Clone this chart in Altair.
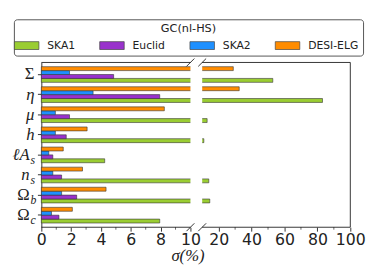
import altair as alt
import pandas as pd

# ---- data ----
params = ["Σ", "η", "μ", "h", "ℓA_s", "n_s", "Ω_b", "Ω_c"]
surveys = ["SKA1", "Euclid", "SKA2", "DESI-ELG"]
colors = ["#9ACD32", "#9932CC", "#1E90FF", "#FF8C00"]
ska1 = [52.9, 83.1, 13.0, 11.0, 4.25, 14.0, 14.6, 7.94]
euclid = [4.85, 7.94, 1.89, 1.67, 0.77, 1.36, 2.37, 1.18]
ska2 = [1.89, 3.47, 0.94, 0.94, 0.50, 0.77, 1.36, 0.68]
desi = [28.9, 32.5, 8.25, 3.07, 1.47, 2.76, 4.34, 2.08]

label_main = ["Σ", "η", "μ", "h", "ℓA", "n", "Ω", "Ω"]
label_sub = ["", "", "", "", "s", "s", "b", "c"]
label_italic = [False, True, True, True, True, True, False, False]

major_ticks = [0, 2, 4, 6, 8, 10, 20, 40, 60, 80, 100]
minor_ticks = [1, 3, 5, 7, 9, 30, 50, 70, 90]
break_lo, break_hi = 10, 10.0001

W, H = 315, 168
W_LEFT, GAP = 152, 12

rows = []
for name, vals in zip(surveys, [ska1, euclid, ska2, desi]):
    for p, v in zip(params, vals):
        rows.append({"param": p, "survey": name, "value": v})
df = pd.DataFrame(rows)

lab = pd.DataFrame({"param": params, "main": label_main, "sub": label_sub,
                    "italic": label_italic,
                    "hassub": [s != "" for s in label_sub]})

xscale = alt.Scale(domain=[0, break_lo, break_hi, 100],
                   range=[0, W_LEFT, W_LEFT + GAP, W], zero=False, nice=False)
xaxis = alt.Axis(values=major_ticks, format="d", labelFont="DejaVu Sans",
                 labelFontSize=16, labelColor="#222", tickSize=4,
                 tickColor="#000", tickWidth=0.8, domain=False, grid=False,
                 title="σ(%)", titleFont="Liberation Serif", titleFontSize=17,
                 titleFontStyle="italic", titleFontWeight="normal",
                 titleColor="#222", titleX=149, labelFlush=False,
                 labelOverlap=False, labelPadding=1, titlePadding=0)
yscale = alt.Scale(domain=params, paddingInner=0.22, paddingOuter=0.21)
yaxis = alt.Axis(labels=False, ticks=True, tickSize=4, tickColor="#000",
                 tickWidth=0.8, domain=True, domainColor="#000",
                 domainWidth=0.8, title=None, grid=False)

legend = alt.Legend(title="GC(nl-HS)", orient="none", legendX=-28, legendY=-44,
                    direction="horizontal", columns=4, columnPadding=23,
                    symbolType="M-1.47,-0.47H1.47V0.47H-1.47Z", symbolSize=289,
                    symbolStrokeColor="#444", symbolStrokeWidth=0.7,
                    labelFont="DejaVu Sans", labelFontSize=11, labelColor="#222",
                    labelOffset=12, titleFont="DejaVu Sans", titleFontSize=11.5,
                    titleFontWeight="normal", titleAnchor="middle",
                    titleColor="#222", titlePadding=2, strokeColor="#555",
                    cornerRadius=3, padding=4, fillColor="white")

bars = alt.Chart(df).mark_bar(stroke="#333", strokeWidth=0.6).encode(
    x=alt.X("value:Q", scale=xscale, axis=xaxis),
    y=alt.Y("param:N", scale=yscale, axis=yaxis),
    yOffset=alt.YOffset("survey:N", sort=["DESI-ELG", "SKA2", "Euclid", "SKA1"],
                        scale=alt.Scale(paddingInner=0, paddingOuter=0)),
    fill=alt.Fill("survey:N", scale=alt.Scale(domain=surveys, range=colors),
                  legend=legend),
)

gap_df = pd.DataFrame({"g0": [break_lo], "g1": [break_hi]})
gap = alt.Chart(gap_df).mark_rect(fill="white").encode(
    x=alt.X("g0:Q", scale=xscale, axis=xaxis), x2="g1:Q",
    y=alt.value(0), y2=alt.value(H))

spine_df = pd.DataFrame({"x0": [0, break_hi], "x1": [break_lo, 100]})
top_spine = alt.Chart(spine_df).mark_rule(color="#000", strokeWidth=0.8).encode(
    x=alt.X("x0:Q", scale=xscale, axis=xaxis), x2="x1:Q", y=alt.value(0))
bot_spine = alt.Chart(spine_df).mark_rule(color="#000", strokeWidth=0.8).encode(
    x=alt.X("x0:Q", scale=xscale, axis=xaxis), x2="x1:Q", y=alt.value(H))
right_df = pd.DataFrame({"xr": [100]})
right_spine = alt.Chart(right_df).mark_rule(color="#000", strokeWidth=0.8).encode(
    x=alt.X("xr:Q", scale=xscale, axis=xaxis), y=alt.value(0), y2=alt.value(H))

minor_df = pd.DataFrame({"m": minor_ticks})
minor = alt.Chart(minor_df).mark_rule(color="#000", strokeWidth=0.6).encode(
    x=alt.X("m:Q", scale=xscale, axis=xaxis), y=alt.value(H), y2=alt.value(H + 2.5))

dummy = pd.DataFrame({"k": [0]})
breaks = []
for cx in [W_LEFT, W_LEFT + GAP]:
    for cy in [0, H]:
        breaks.append(alt.Chart(dummy).mark_rule(color="#000", strokeWidth=0.8).encode(
            x=alt.value(cx - 4), x2=alt.value(cx + 4),
            y=alt.value(cy + 4), y2=alt.value(cy - 4)))

def label_layer(filt, style, xpos, align, field, size, dy=0):
    return alt.Chart(lab).transform_filter(filt).mark_text(
        font="Liberation Serif", fontSize=size, fontStyle=style, align=align,
        baseline="middle", color="#222", dy=dy).encode(
        x=alt.value(xpos), y=alt.Y("param:N", scale=yscale, axis=yaxis),
        text=f"{field}:N")

lab_layers = [
    label_layer("!datum.hassub && datum.italic", "italic", -7, "right", "main", 17),
    label_layer("!datum.hassub && !datum.italic", "normal", -7, "right", "main", 17),
    label_layer("datum.hassub && datum.italic", "italic", -12, "right", "main", 17),
    label_layer("datum.hassub && !datum.italic", "normal", -12, "right", "main", 17),
    label_layer("datum.hassub", "italic", -11, "left", "sub", 12, dy=5),
]

chart = alt.layer(bars, gap, top_spine, bot_spine, right_spine, minor,
                  *breaks, *lab_layers).properties(
    width=W, height=H,
    padding={"left": 4, "top": 8, "right": 0, "bottom": 0},
).configure_view(stroke=None)

chart.save("out.html", embed_options={"renderer": "svg", "actions": False})
